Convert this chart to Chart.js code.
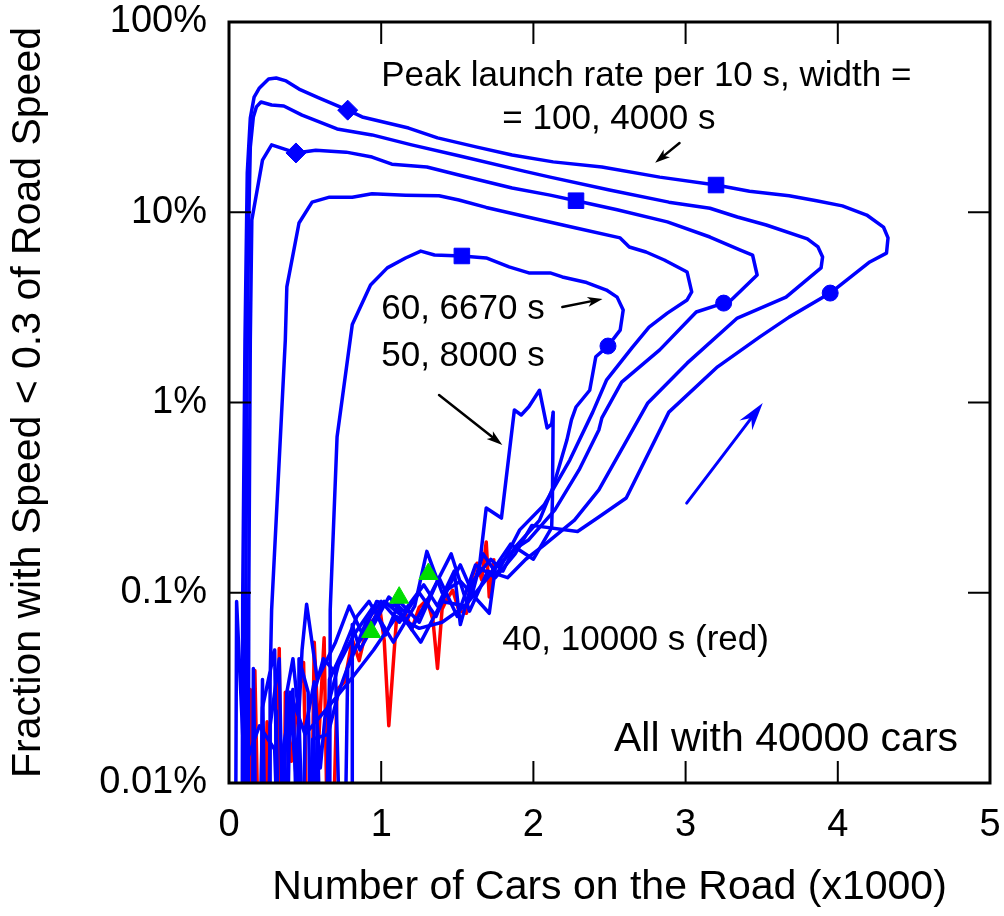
<!DOCTYPE html>
<html>
<head>
<meta charset="utf-8">
<title>Fraction with Speed &lt; 0.3 of Road Speed</title>
<script src="https://cdn.jsdelivr.net/npm/chart.js@4.4.1/dist/chart.umd.min.js"></script>
<style>
  html, body { margin: 0; padding: 0; background: #fff; }
  #wrap { width: 1004px; height: 916px; }
</style>
</head>
<body>
<div id="wrap"><canvas id="chart" width="1004" height="916"></canvas></div>
<script>
// axis ticks
const xTicks = [0, 1, 2, 3, 4, 5];
const yTicks = [0.01, 0.1, 1, 10, 100];
const yTickLabels = ["0.01%", "0.1%", "1%", "10%", "100%"];

// [cars on road (x1000), percent slow]; 0.001 = dropped to zero (below axis)
const run100 = [
  [0.30,0.001],[0.31,0.024],[0.34,0.001],[0.36,0.016],[0.42,0.031],[0.47,0.001],[0.50,0.019],
  [0.56,0.034],[0.60,0.012],[0.63,0.022],[0.72,0.042],[0.82,0.06],[0.95,0.085],[1.03,0.06],
  [1.12,0.09],[1.25,0.07],[1.38,0.12],[1.50,0.075],[1.62,0.14],[1.75,0.12],[1.88,0.16],
  [1.99,0.226],[2.29,0.21],[2.43,0.25],[2.61,0.315],[2.89,0.89],[3.21,1.54],[3.49,2.22],
  [3.68,2.81],[3.95,3.76],[4.21,5.48],[4.32,6.1],[4.33,7.33],[4.30,8.36],[4.19,9.67],
  [4.03,10.8],[3.86,11.5],[3.68,12.2],[3.42,12.9],[3.20,13.9],[2.83,15.3],[2.45,17.3],
  [2.13,18.4],[1.86,20.0],[1.63,22.0],[1.37,24.6],[1.18,27.7],[0.875,31.7],[0.78,34.4],
  [0.59,39.9],[0.46,44.4],[0.375,49.0],[0.31,50.8],[0.26,50.2],[0.20,45],[0.165,40.3],
  [0.14,31.3],[0.12,16.1],[0.105,2.13],[0.09,0.092],[0.085,0.001]
];
const run90 = [
  [0.20,0.001],[0.22,0.035],[0.25,0.001],[0.27,0.02],[0.33,0.045],[0.37,0.001],[0.40,0.028],
  [0.44,0.011],[0.48,0.05],[0.51,0.087],[0.58,0.035],[0.70,0.055],[0.79,0.085],[0.88,0.06],
  [0.97,0.09],[1.10,0.085],[1.20,0.065],[1.33,0.10],[1.46,0.16],[1.58,0.08],[1.70,0.13],
  [1.83,0.12],[1.95,0.15],[2.07,0.178],[2.27,0.241],[2.43,0.347],[2.75,0.99],[3.01,1.61],
  [3.34,2.78],[3.66,3.58],[3.89,5.1],[3.90,5.82],[3.87,6.57],[3.80,7.24],[3.53,8.57],
  [3.34,9.44],[3.16,10.5],[2.89,11.3],[2.50,13.1],[2.11,15.3],[1.93,16.5],[1.51,19.8],
  [1.20,22.6],[0.94,25.5],[0.71,27.4],[0.48,32.4],[0.36,36.2],[0.28,36.6],[0.21,38.0],
  [0.18,35.8],[0.16,31.7],[0.14,22.0],[0.13,9.1],[0.12,2.13],[0.11,0.092],[0.105,0.001]
];
const run80 = [
  [0.45,0.001],[0.46,0.045],[0.52,0.03],[0.55,0.001],[0.58,0.02],[0.62,0.001],[0.66,0.035],
  [0.75,0.05],[0.84,0.075],[0.92,0.09],[1.00,0.07],[1.08,0.055],[1.22,0.085],[1.30,0.165],
  [1.40,0.10],[1.52,0.115],[1.71,0.078],[1.75,0.135],[1.88,0.17],[1.97,0.19],[2.14,0.272],
  [2.30,0.442],[2.43,0.717],[2.45,0.83],[2.58,1.28],[2.83,1.89],[3.07,2.99],[3.25,3.33],
  [3.30,3.46],[3.47,4.68],[3.44,5.96],[3.36,6.33],[3.16,7.41],[2.88,8.9],[2.55,10.3],
  [2.28,11.5],[2.11,12.3],[1.86,13.4],[1.51,15.7],[1.30,17.3],[1.07,17.9],[0.94,19.5],
  [0.77,20.7],[0.57,21.2],[0.44,20.5],[0.28,22.6],[0.22,18.8],[0.15,9.1],[0.14,2.13],
  [0.13,0.092],[0.125,0.001]
];
const run70 = [
  [0.15,0.001],[0.16,0.04],[0.19,0.001],[0.22,0.025],[0.30,0.05],[0.33,0.001],[0.38,0.03],
  [0.42,0.045],[0.46,0.022],[0.51,0.001],[0.55,0.017],[0.65,0.018],[0.72,0.03],[0.82,0.05],
  [0.94,0.07],[1.02,0.09],[1.14,0.075],[1.26,0.055],[1.40,0.09],[1.56,0.085],[1.67,0.16],
  [1.76,0.125],[1.91,0.214],[2.07,0.289],[2.24,0.50],[2.39,0.89],[2.48,1.31],[2.65,1.95],
  [2.76,2.49],[2.88,2.95],[3.01,3.46],[3.04,3.81],[3.01,4.85],[2.86,5.61],[2.74,6.18],
  [2.63,6.57],[2.57,7.33],[2.28,8.27],[1.99,9.33],[1.69,10.6],[1.51,11.6],[1.38,12.2],
  [1.16,12.3],[0.94,12.5],[0.81,12.0],[0.66,12.0],[0.546,11.3],[0.46,8.78],[0.38,4.05],
  [0.37,2.13],[0.28,0.081],[0.27,0.034],[0.27,0.001]
];
const run60 = [
  [0.81,0.001],[0.81,0.068],[0.86,0.05],[0.96,0.07],[1.05,0.095],[1.15,0.08],[1.28,0.11],
  [1.37,0.085],[1.48,0.13],[1.52,0.068],[1.60,0.115],[1.72,0.15],[1.80,0.13],[1.875,0.172],
  [2.04,0.24],[2.13,0.36],[2.22,0.635],[2.25,0.81],[2.28,0.947],[2.37,1.16],[2.41,1.74],
  [2.49,1.98],[2.57,2.4],[2.59,3.06],[2.55,3.58],[2.48,3.9],[2.35,4.27],[2.19,4.57],
  [2.11,4.8],[1.97,4.8],[1.84,5.16],[1.69,5.75],[1.53,5.89],[1.35,5.96],[1.26,6.25],
  [1.16,5.75],[1.04,5.1],[0.93,4.15],[0.81,2.57],[0.71,0.659],[0.665,0.081],[0.66,0.001]
];
const run50 = [
  [0.55,0.001],[0.56,0.03],[0.62,0.045],[0.70,0.038],[0.75,0.001],[0.78,0.04],[0.90,0.07],
  [1.00,0.09],[1.12,0.07],[1.25,0.10],[1.36,0.075],[1.45,0.11],[1.52,0.14],[1.60,0.10],
  [1.645,0.137],[1.69,0.279],[1.79,0.247],[1.875,0.913],[1.92,0.86],[1.97,0.95],[2.04,1.16],
  [2.09,0.735],[2.12,0.77],[2.13,0.89],[2.125,0.31],[2.12,0.22],[2.00,0.15],[1.85,0.18],
  [1.70,0.12],[1.55,0.085],[1.40,0.07],[1.25,0.065],[1.10,0.075],[0.95,0.05],[0.80,0.035],
  [0.65,0.025],[0.50,0.018],[0.40,0.03],[0.35,0.001],[0.30,0.015],[0.20,0.02],[0.10,0.012],
  [0.05,0.09],[0.04,0.001]
];
const run40 = [
  [0.07,0.001],[0.10,0.027],[0.14,0.031],[0.15,0.001],[0.17,0.039],[0.21,0.001],[0.25,0.021],
  [0.30,0.001],[0.33,0.051],[0.355,0.001],[0.37,0.030],[0.41,0.013],[0.45,0.027],[0.49,0.043],
  [0.53,0.001],[0.56,0.055],[0.59,0.017],[0.625,0.058],[0.66,0.001],[0.71,0.031],[0.76,0.034],
  [0.81,0.057],[0.855,0.044],[0.91,0.068],[0.95,0.072],[0.99,0.084],[1.02,0.056],[1.05,0.020],
  [1.10,0.072],[1.16,0.078],[1.20,0.064],[1.25,0.084],[1.30,0.092],[1.34,0.072],[1.37,0.040],
  [1.40,0.082],[1.43,0.092],[1.47,0.103],[1.51,0.081],[1.56,0.078],[1.59,0.117],[1.63,0.143],
  [1.66,0.117],[1.69,0.185],[1.71,0.095],[1.74,0.149]
];

// time markers
const diamondPts = [[0.78,34.4],[0.44,20.5]];
const squarePts = [[3.20,13.9],[2.28,11.5],[1.53,5.89]];
const circlePts = [[3.95,3.76],[3.25,3.33],[2.49,1.98]];
const trianglePts = [[0.934,0.0622],[1.118,0.0942],[1.31,0.1255]];

const BLUE = "#0000ff", RED = "#ff0000", GREEN = "#00dd00";
const FONT = '"Liberation Sans", Arial, Helvetica, sans-serif';

const toPts = arr => arr.map(p => ({ x: p[0], y: p[1] }));

function lineSet(label, pts, color, order) {
  return {
    label, data: toPts(pts), showLine: true,
    borderColor: color, backgroundColor: color, borderWidth: 3.5,
    pointRadius: 0, pointHoverRadius: 0, tension: 0,
    borderJoinStyle: "round", borderCapStyle: "round", order
  };
}
function markSet(label, pts, color, style, radius) {
  return {
    label, data: toPts(pts), showLine: false, pointStyle: style,
    pointRadius: radius, pointHoverRadius: radius,
    backgroundColor: color, borderColor: color, borderWidth: 1, order: 1
  };
}

// text and arrows, anchored in data coordinates
const notes = [
  { text: "Peak launch rate per 10 s, width =", x: 1.0, y: 52.0, size: 35, align: "left" },
  { text: "= 100, 4000 s", x: 1.796, y: 30.9, size: 35, align: "left" },
  { text: "60, 6670 s", x: 1.0, y: 3.10, size: 35, align: "left" },
  { text: "50, 8000 s", x: 1.0, y: 1.756, size: 35, align: "left" },
  { text: "40, 10000 s (red)", x: 1.796, y: 0.0565, size: 35, align: "left" },
  { text: "All with 40000 cars", x: 4.79, y: 0.0168, size: 41, align: "right" }
];
const arrows = [
  { from: [2.96, 23.1], to: [2.80, 18.2], color: "#000", w: 2.5, len: 15, half: 5, notch: 11 },
  { from: [2.19, 3.18], to: [2.454, 3.50], color: "#000", w: 2.5, len: 15, half: 5, notch: 11 },
  { from: [1.38, 1.095], to: [1.796, 0.598], color: "#000", w: 2.5, len: 16, half: 5, notch: 12 },
  { from: [3.007, 0.296], to: [3.507, 0.994], color: BLUE, w: 3, len: 28, half: 8, notch: 19 }
];

function drawArrow(ctx, x1, y1, x2, y2, a) {
  const ang = Math.atan2(y2 - y1, x2 - x1);
  const c = Math.cos(ang), s = Math.sin(ang);
  const bx = x2 - c * a.notch, by = y2 - s * a.notch;
  const px = x2 - c * a.len, py = y2 - s * a.len;
  ctx.strokeStyle = a.color; ctx.fillStyle = a.color; ctx.lineWidth = a.w;
  ctx.lineCap = "round";
  ctx.beginPath(); ctx.moveTo(x1, y1); ctx.lineTo(bx, by); ctx.stroke();
  ctx.beginPath();
  ctx.moveTo(x2, y2);
  ctx.lineTo(px - s * a.half, py + c * a.half);
  ctx.lineTo(bx, by);
  ctx.lineTo(px + s * a.half, py - c * a.half);
  ctx.closePath(); ctx.fill();
}

const framePlugin = {
  id: "frame",
  afterDatasetsDraw(chart) {
    const { ctx, chartArea: a, scales: { x, y } } = chart;
    const tick = 22;
    ctx.save();
    ctx.strokeStyle = "#000";
    ctx.lineWidth = 2;
    ctx.beginPath();
    xTicks.slice(1, -1).forEach(v => {
      const px = x.getPixelForValue(v);
      ctx.moveTo(px, a.bottom); ctx.lineTo(px, a.bottom - tick);
      ctx.moveTo(px, a.top); ctx.lineTo(px, a.top + tick);
    });
    yTicks.slice(1, -1).forEach(v => {
      const py = y.getPixelForValue(v);
      ctx.moveTo(a.left, py); ctx.lineTo(a.left + tick, py);
      ctx.moveTo(a.right, py); ctx.lineTo(a.right - tick, py);
    });
    ctx.stroke();
    ctx.lineWidth = 3;
    ctx.strokeRect(a.left, a.top, a.right - a.left, a.bottom - a.top);
    ctx.restore();
  },
  afterDraw(chart) {
    const { ctx, scales: { x, y } } = chart;
    ctx.save();
    ctx.fillStyle = "#000";
    ctx.textBaseline = "middle";
    notes.forEach(n => {
      ctx.font = n.size + "px " + FONT;
      ctx.textAlign = n.align;
      ctx.fillText(n.text, x.getPixelForValue(n.x), y.getPixelForValue(n.y));
    });
    arrows.forEach(a => {
      drawArrow(ctx,
        x.getPixelForValue(a.from[0]), y.getPixelForValue(a.from[1]),
        x.getPixelForValue(a.to[0]), y.getPixelForValue(a.to[1]), a);
    });
    ctx.restore();
  }
};

new Chart(document.getElementById("chart"), {
  type: "scatter",
  data: {
    datasets: [
      markSet("triangles", trianglePts, GREEN, "triangle", 11),
      markSet("diamonds", diamondPts, BLUE, "rectRot", 10),
      markSet("squares", squarePts, BLUE, "rect", 11),
      markSet("circles", circlePts, BLUE, "circle", 8),
      lineSet("100, 4000 s", run100, BLUE, 2),
      lineSet("90", run90, BLUE, 2),
      lineSet("80", run80, BLUE, 2),
      lineSet("70", run70, BLUE, 2),
      lineSet("60, 6670 s", run60, BLUE, 2),
      lineSet("50, 8000 s", run50, BLUE, 2),
      lineSet("40, 10000 s", run40, RED, 3)
    ]
  },
  options: {
    responsive: false,
    animation: false,
    devicePixelRatio: 1,
    layout: { padding: { top: 22, right: 14, bottom: 0, left: 0 } },
    plugins: { legend: { display: false }, tooltip: { enabled: false } },
    scales: {
      x: {
        type: "linear", min: 0, max: 5,
        grid: { display: false, drawTicks: false },
        border: { display: false },
        ticks: { stepSize: 1, padding: 20, color: "#000", font: { family: FONT, size: 38 } },
        title: {
          display: true, text: "Number of Cars on the Road (x1000)", color: "#000",
          font: { family: FONT, size: 41 }, padding: { top: 0, bottom: 4 }
        },
        afterFit: s => { s.height = 133; s.paddingLeft = 0; s.paddingRight = 0; }
      },
      y: {
        type: "logarithmic", min: 0.01, max: 100,
        grid: { display: false, drawTicks: false },
        border: { display: false },
        afterBuildTicks: s => { s.ticks = yTicks.map(v => ({ value: v })); },
        ticks: {
          padding: 22, color: "#000", autoSkip: false,
          font: { family: FONT, size: 38 },
          callback: v => {
            const i = yTicks.findIndex(t => Math.abs(Math.log10(t) - Math.log10(v)) < 1e-6);
            return i >= 0 ? yTickLabels[i] : "";
          }
        },
        title: {
          display: true, text: "Fraction with Speed < 0.3 of Road Speed", color: "#000",
          font: { family: FONT, size: 41 }, padding: { top: 4, bottom: 0 }
        },
        afterFit: s => { s.width = 229; s.paddingTop = 0; s.paddingBottom = 0; }
      }
    }
  },
  plugins: [framePlugin]
});
</script>
</body>
</html>
